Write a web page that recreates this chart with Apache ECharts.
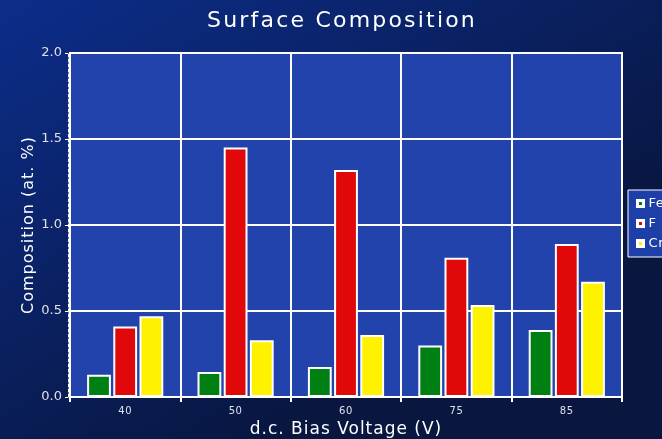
<!DOCTYPE html>
<html><head><meta charset="utf-8">
<script src="https://cdn.jsdelivr.net/npm/echarts@6/dist/echarts.min.js"></script>
<style>html,body{margin:0;padding:0;}#c{width:662px;height:439px;}</style>
</head><body><div id="c"></div>
<script>
const categories = ['40','50','60','75','85'];
const feValues = [0.13, 0.145, 0.175, 0.30, 0.39];
const fValues = [0.41, 1.45, 1.32, 0.81, 0.89];
const crValues = [0.47, 0.33, 0.36, 0.535, 0.67];
const seriesNames = ['Fe','F','Cr'];
const colors = ['#007f12','#e00808','#fff200'];

// letter spacing for fonts tagged with the "Verdana" fallback
const _ft = CanvasRenderingContext2D.prototype.fillText;
CanvasRenderingContext2D.prototype.fillText = function(t, x, y, m) {
  const f = this.font || '';
  let ls = '0px';
  if (f.indexOf('Verdana') >= 0) {
    const mm = f.match(/(\d+(\.\d+)?)px/);
    const s = mm ? parseFloat(mm[1]) : 12;
    ls = s >= 20 ? '2.2px' : (s >= 15 ? '1px' : '0.6px');
  }
  this.letterSpacing = ls;
  return m === undefined ? _ft.call(this, t, x, y) : _ft.call(this, t, x, y, m);
};
const SP = 'DejaVu Sans, Verdana';

const chart = echarts.init(document.getElementById('c'));
const mk = (name, data, color) => ({
  name, type:'bar', data, barGap:'10%', barCategoryGap:'31%',
  itemStyle:{color, borderColor:'#ffffff', borderWidth:2},
});
chart.setOption({
  backgroundColor: {type:'linear', x:0, y:0, x2:0.4, y2:1, colorStops:[{offset:0,color:'#0c2d8a'},{offset:1,color:'#081640'}]},
  title:{text:'Surface Composition', left:337, top:5, textAlign:'center',
    textStyle:{color:'#ffffff', fontSize:22, fontWeight:'normal', fontFamily:SP}},
  legend:{left:628, top:190, orient:'vertical', itemWidth:6, itemHeight:6, itemGap:7,
    backgroundColor:'#1f3fa8', borderColor:'#ffffff', borderWidth:1, padding:[7,8,7,8],
    textStyle:{color:'#ffffff', fontSize:13, fontFamily:SP},
    data: seriesNames.map((n,i)=>({name:n, icon:'rect', itemStyle:{color:colors[i], borderColor:'#ffffff', borderWidth:3}}))},
  grid:{left:70, right:40, top:53, bottom:42, outerBoundsMode:'none', containLabel:false, show:true, backgroundColor:'#2243ab', borderColor:'#ffffff', borderWidth:2},
  xAxis:{type:'category', data:categories, name:'d.c. Bias Voltage (V)', nameLocation:'middle', nameGap:24, nameMoveOverlap:false,
    nameTextStyle:{color:'#ffffff', fontSize:17, fontFamily:SP},
    axisLine:{lineStyle:{color:'#ffffff', width:2}},
    axisTick:{show:true, length:5, lineStyle:{color:'#ffffff', width:2}},
    axisLabel:{color:'#e0e0e8', fontSize:10, margin:9, fontFamily:SP},
    splitLine:{show:true, lineStyle:{color:'#ffffff', width:2}}},
  yAxis:{type:'value', min:0, max:2, interval:0.5, name:'Composition (at. %)', nameLocation:'middle', nameGap:31, nameMoveOverlap:false,
    nameTextStyle:{color:'#ffffff', fontSize:16, fontFamily:SP},
    offset:2,
    axisLine:{show:true, lineStyle:{color:'#ffffff', width:1, type:[3,2]}},
    axisTick:{show:true, length:3, lineStyle:{color:'#ffffff'}},
    axisLabel:{color:'#e0e0e8', fontSize:13, margin:6, fontFamily:'DejaVu Sans', formatter:v=>v.toFixed(1)},
    splitLine:{show:true, lineStyle:{color:'#ffffff', width:2}}},
  series:[mk(seriesNames[0], feValues, colors[0]), mk(seriesNames[1], fValues, colors[1]), mk(seriesNames[2], crValues, colors[2])]
});
</script></body></html>
